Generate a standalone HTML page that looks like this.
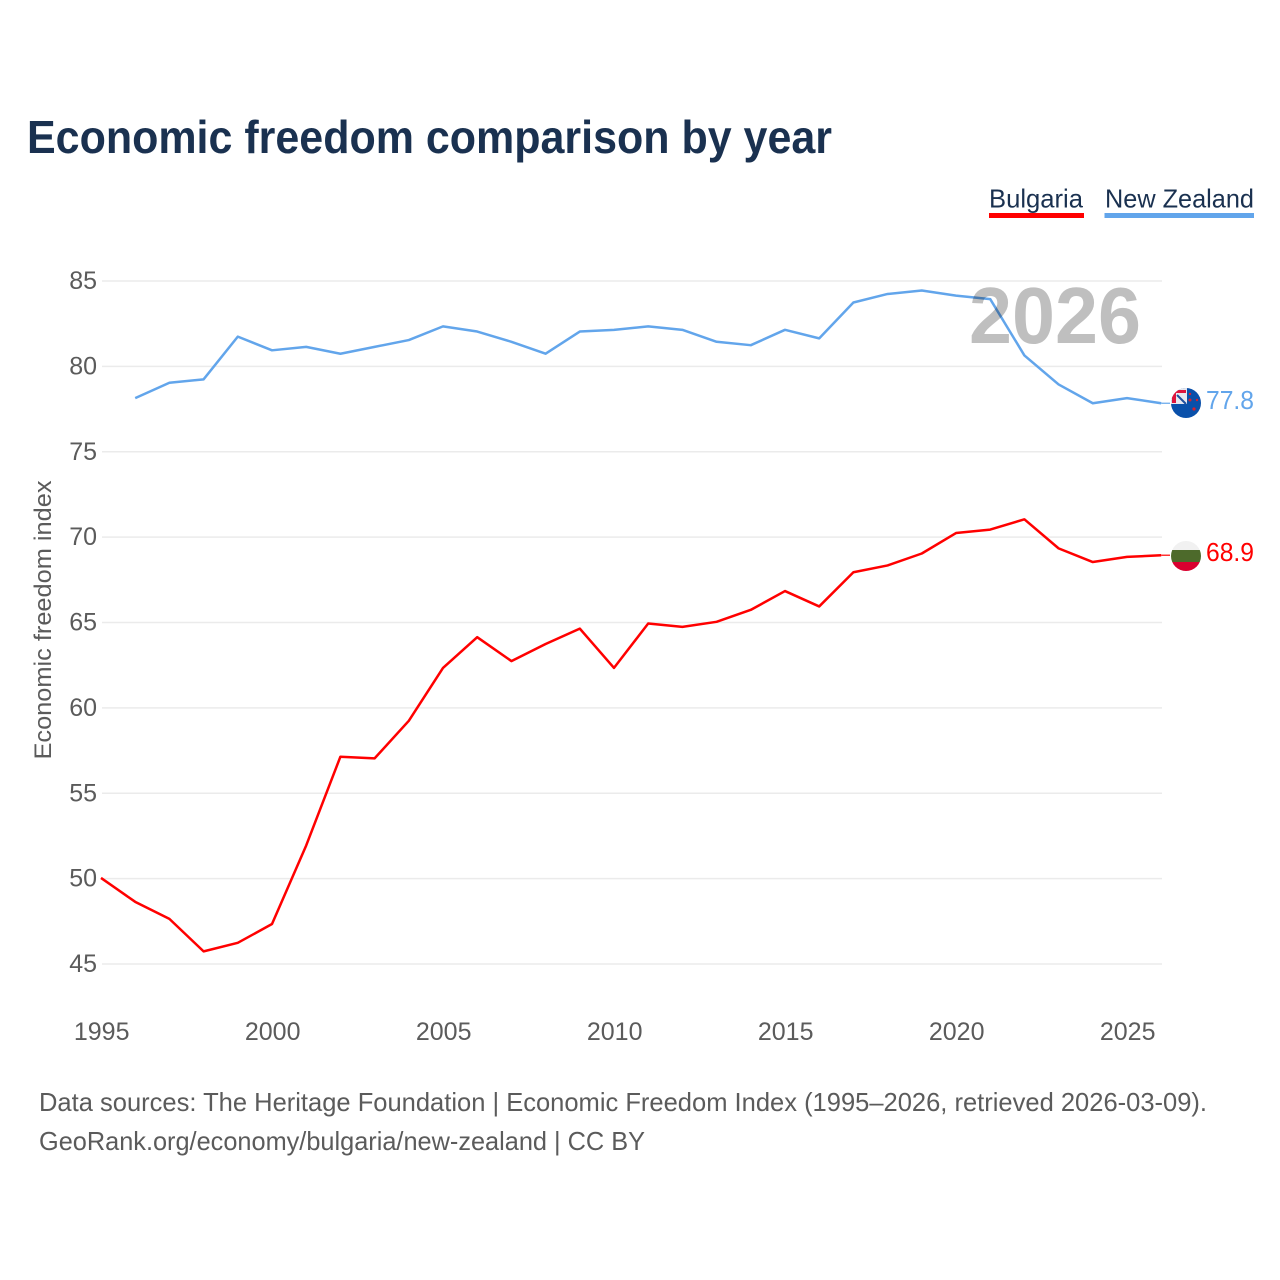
<!DOCTYPE html>
<html>
<head>
<meta charset="utf-8">
<style>
html,body{margin:0;padding:0;background:#fff;}
svg{display:block;font-family:"Liberation Sans","DejaVu Sans",sans-serif;}
</style>
</head>
<body>
<svg id="chart" width="1280" height="1280" viewBox="0 0 1280 1280" xmlns="http://www.w3.org/2000/svg">
<defs>
<clipPath id="nz-clip"><circle cx="1186" cy="403" r="15"/></clipPath>
<clipPath id="bg-clip"><circle cx="1186" cy="556" r="15"/></clipPath>
</defs>
<rect width="1280" height="1280" fill="#fff"/>
<text x="27" y="153" font-size="46" font-weight="700" fill="#1a3150" textLength="805" lengthAdjust="spacingAndGlyphs">Economic freedom comparison by year</text>
<g id="grid"></g>
<g id="yticks"></g>
<g id="xticks"></g>
<text transform="translate(51,620) rotate(-90)" text-anchor="middle" font-size="24" fill="#5b5b5b" textLength="279" lengthAdjust="spacingAndGlyphs">Economic freedom index</text>
<g id="series"></g>
<text x="969" y="343" font-size="80" font-weight="700" fill="#000" fill-opacity="0.25" textLength="172" lengthAdjust="spacingAndGlyphs">2026</text>
<g>
<text x="989" y="207.5" font-size="26" fill="#1a3150" textLength="94" lengthAdjust="spacingAndGlyphs">Bulgaria</text>
<rect x="989" y="213" width="95" height="5" fill="#ff0000"/>
</g>
<g>
<text x="1105" y="207.5" font-size="26" fill="#1a3150" textLength="149" lengthAdjust="spacingAndGlyphs">New Zealand</text>
<rect x="1104.5" y="213" width="149.5" height="5" fill="#62a5eb"/>
</g>
<g clip-path="url(#nz-clip)">
<rect x="1171" y="388" width="30" height="30" fill="#0a50aa"/>
<rect x="1171" y="388" width="16" height="16" fill="#e8e8ef"/>
<path d="M1172 390h14v3h-10v10h-4z" fill="#e0143c"/>
<path d="M1177 395l9 9" stroke="#1f4f9f" stroke-width="2"/>
<circle cx="1190" cy="400" r="1.5" fill="#d8202f"/>
<circle cx="1197" cy="400" r="1.2" fill="#d8202f"/>
<circle cx="1194" cy="409" r="1.6" fill="#d8202f"/>
<circle cx="1190" cy="394" r="1.2" fill="#d8202f"/>
</g>
<g clip-path="url(#bg-clip)">
<rect x="1171" y="541" width="30" height="9" fill="#f1f1f1"/>
<rect x="1171" y="550" width="30" height="12" fill="#4d6a2b"/>
<rect x="1171" y="562" width="30" height="10" fill="#d9002f"/>
</g>
<g>
<text x="39" y="1111" font-size="26" fill="#5b5b5b" textLength="1168" lengthAdjust="spacingAndGlyphs">Data sources: The Heritage Foundation | Economic Freedom Index (1995–2026, retrieved 2026-03-09).</text>
<text x="39" y="1150" font-size="26" fill="#5b5b5b" textLength="606" lengthAdjust="spacingAndGlyphs">GeoRank.org/economy/bulgaria/new-zealand | CC BY</text>
</g>
</svg>
<script>
const years = [1995,1996,1997,1998,1999,2000,2001,2002,2003,2004,2005,2006,2007,2008,2009,2010,2011,2012,2013,2014,2015,2016,2017,2018,2019,2020,2021,2022,2023,2024,2025,2026];
const bulgaria = [50.0,48.6,47.6,45.7,46.2,47.3,51.9,57.1,57.0,59.2,62.3,64.1,62.7,63.7,64.6,62.3,64.9,64.7,65.0,65.7,66.8,65.9,67.9,68.3,69.0,70.2,70.4,71.0,69.3,68.5,68.8,68.9];
const newZealand = [null,78.1,79.0,79.2,81.7,80.9,81.1,80.7,81.1,81.5,82.3,82.0,81.4,80.7,82.0,82.1,82.3,82.1,81.4,81.2,82.1,81.6,83.7,84.2,84.4,84.1,83.9,80.6,78.9,77.8,78.1,77.8];
const yTicks = [45,50,55,60,65,70,75,80,85];
const xTicks = [1995,2000,2005,2010,2015,2020,2025];

const NS = 'http://www.w3.org/2000/svg';
const svg = document.getElementById('chart');
const xOf = function (year) { return 101 + (year - 1995) * 34.2; };
const yOf = function (v) { return 964 - (v - 45) * (683 / 40); };

function make(tag, parentId, attrs, content) {
  const el = document.createElementNS(NS, tag);
  for (const k in attrs) el.setAttribute(k, attrs[k]);
  if (content !== undefined) el.textContent = content;
  (parentId ? document.getElementById(parentId) : svg).appendChild(el);
  return el;
}

yTicks.forEach(function (t) {
  const line = make('line', 'grid', {x1: 102, x2: 1162, y1: yOf(t), y2: yOf(t), stroke: '#ebebeb', 'stroke-width': 1.5});
  
  
  const label = make('text', 'yticks', {x: 97, y: yOf(t) + 8, 'text-anchor': 'end', 'font-size': 25, fill: '#5b5b5b'}, String(t));
  
  
});

xTicks.forEach(function (t) {
  const label = make('text', 'xticks', {x: xOf(t) + 0.7, y: 1040, 'text-anchor': 'middle', 'font-size': 25, fill: '#5b5b5b'}, String(t));
  
  
});

function drawSeries(values, color, key) {
  let d = '';
  let lastValue = null;
  values.forEach(function (v, i) {
    if (v === null) return;
    d += (d ? 'L' : 'M') + xOf(years[i]).toFixed(2) + ' ' + (yOf(v) - 0.7).toFixed(2);
    lastValue = v;
  });
  const path = make('path', 'series', {d: d, fill: 'none', stroke: color, 'stroke-width': 2.5, 'stroke-linejoin': 'round'});
  
  
  const ly = yOf(lastValue) - 0.7;
  const leader = make('line', 'series', {x1: xOf(years[years.length - 1]), x2: 1170, y1: ly, y2: ly, stroke: color, 'stroke-width': 1.2});
  
  
  const label = make('text', 'series', {x: 1206, y: ly + 6, 'font-size': 25.5, fill: color, textLength: 48, lengthAdjust: 'spacingAndGlyphs'}, lastValue.toFixed(1));
  
  
}
drawSeries(bulgaria, '#ff0000', 'bulgaria');
drawSeries(newZealand, '#62a5eb', 'new-zealand');
</script>
</body>
</html>
